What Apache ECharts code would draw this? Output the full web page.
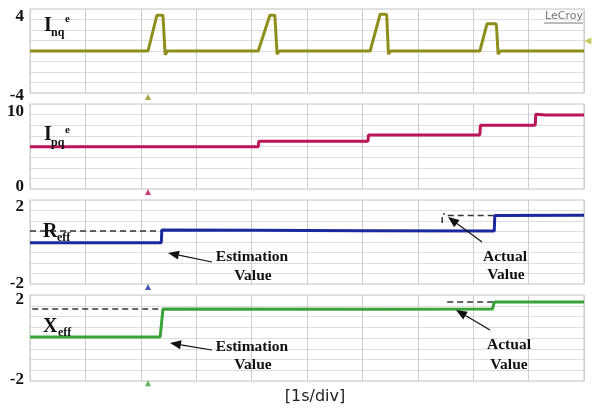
<!DOCTYPE html>
<html><head><meta charset="utf-8">
<script src="https://cdn.jsdelivr.net/npm/echarts@6/dist/echarts.min.js"></script>
<style>html,body{margin:0;padding:0;background:#fff}#c{width:600px;height:410px}</style>
</head><body><div id="c"></div>
<script>
// ---- data (time in s, 1 s/div) ----
const timeRange = [0, 10];
const inqRange = [-4, 4];
const ipqRange = [0, 10];
const reffRange = [-2, 2];
const xeffRange = [-2, 2];
const inqLabels = ['4', '-4'];
const ipqLabels = ['10', '0'];
const reffLabels = ['2', '-2'];
const xeffLabels = ['2', '-2'];

const inqData = [[0,0],[2.13,0],[2.29,3.4],[2.40,3.4],[2.41,3.3],[2.44,-0.35],[2.48,0],
  [4.12,0],[4.33,3.4],[4.42,3.4],[4.43,3.3],[4.46,-0.3],[4.50,0],
  [6.14,0],[6.32,3.5],[6.43,3.5],[6.44,3.3],[6.47,-0.3],[6.51,0],
  [8.12,0],[8.25,2.6],[8.41,2.6],[8.42,2.4],[8.45,-0.3],[8.49,0],[10,0]];
const ipqData = [[0,4.97],[4.12,4.97],[4.13,5.62],[6.10,5.62],[6.11,6.35],[8.12,6.35],[8.13,7.5],
  [9.12,7.5],[9.13,8.8],[9.3,8.7],[10,8.7]];
const reffData = [[0,-0.03],[2.37,-0.03],[2.38,0.57],[4,0.56],[6,0.54],[8.38,0.52],[8.39,1.26],[10,1.27]];
const xeffData = [[0,0.05],[2.35,0.05],[2.40,1.35],[6.40,1.34],[6.42,1.26],[6.46,1.34],[8.35,1.35],[8.38,1.67],[10,1.68]];
const reffActual1 = [[0,0.52],[2.38,0.52]];
const reffActual2 = [[7.44,0.9],[7.44,1.33],[7.49,1.33],[7.49,null],[7.54,1.26],[8.39,1.26]];
const xeffActual1 = [[0.04,1.35],[2.38,1.35]];
const xeffActual2 = [[7.53,1.67],[8.36,1.67]];
const triggerMarks = [[2.13,-4.38],[2.13,-0.35],[2.13,-2.14],[2.13,-2.1]];
const offsetMark = [[10.07,0.95]];

const colors = ['#8e8e1c','#bc1458','#1a2a9e','#38a438'];
const ranges = [inqRange, ipqRange, reffRange, xeffRange];
const labels = [inqLabels, ipqLabels, reffLabels, xeffLabels];
const intervals = [1, 1.25, 0.5, 0.5];
const tops = [9, 104, 200, 295];
const heights = [84, 85, 84, 86];
const topPad = [16, 16, 14, 10];
const botPad = [[6,0,0,0], [0,0,4,0], [0,0,0,0], [0,0,2,0]];

const chart = echarts.init(document.getElementById('c'), null, {renderer:'canvas'});
const grids = [], xAxes = [], yAxes = [], series = [];
for (let i = 0; i < 4; i++) {
  grids.push({left:30, right:16, top:tops[i], height:heights[i], show:true, borderColor:'#c4c4c4', borderWidth:1});
  xAxes.push({type:'value', gridIndex:i, min:timeRange[0], max:timeRange[1], interval:1,
    axisLine:{show:false}, axisTick:{show:false}, axisLabel:{show:false},
    splitLine:{show:true, lineStyle:{color:'#cdcdcd', width:1}}});
  const r = ranges[i], lb = labels[i];
  yAxes.push({type:'value', gridIndex:i, min:r[0], max:r[1], interval:intervals[i],
    axisLine:{show:false}, axisTick:{show:false},
    splitLine:{show:true, lineStyle:{color:'#dedede', width:1}},
    axisLabel:{show:true, showMinLabel:true, showMaxLabel:true, margin:6,
      formatter:function(v){ if (v===r[1]) return '{t|'+lb[0]+'}'; if (v===r[0]) return '{b|'+lb[1]+'}'; return ''; },
      rich:{ t:{fontFamily:'Liberation Serif', fontWeight:'bold', fontSize:17, color:'#111', padding:[topPad[i],0,0,0]},
             b:{fontFamily:'Liberation Serif', fontWeight:'bold', fontSize:17, color:'#111', padding:botPad[i]} }}});
}
const dataSets = [inqData, ipqData, reffData, xeffData];
for (let i = 0; i < 4; i++) {
  series.push({type:'line', xAxisIndex:i, yAxisIndex:i, data:dataSets[i], showSymbol:false, symbol:'none',
    lineStyle:{color:colors[i], width:3}, z:5});
  series.push({type:'scatter', xAxisIndex:i, yAxisIndex:i, data:[triggerMarks[i]], symbol:'triangle',
    symbolSize:[6,6], itemStyle:{color:colors[i]}, clip:false, z:6});
}
const dashed = {type:'line', showSymbol:false, symbol:'none', connectNulls:false, z:4,
  lineStyle:{color:'#333', width:1.5, type:[6,4]}};
series.push(Object.assign({}, dashed, {xAxisIndex:2, yAxisIndex:2, data:reffActual1}));
series.push(Object.assign({}, dashed, {xAxisIndex:2, yAxisIndex:2, data:reffActual2}));
series.push(Object.assign({}, dashed, {xAxisIndex:3, yAxisIndex:3, data:xeffActual1}));
series.push(Object.assign({}, dashed, {xAxisIndex:3, yAxisIndex:3, data:xeffActual2}));
series.push({type:'scatter', xAxisIndex:0, yAxisIndex:0, data:offsetMark, symbol:'triangle', symbolRotate:90,
  symbolSize:[7,7], itemStyle:{color:'#b8b830'}, clip:false, z:6});

function arrow(tx, ty, hx, hy) {
  const dx = hx - tx, dy = hy - ty, L = Math.sqrt(dx*dx+dy*dy), ux = dx/L, uy = dy/L;
  const hl = 11, hw = 4.5;
  const bx = hx - ux*hl, by = hy - uy*hl;
  return [
    {type:'line', shape:{x1:tx, y1:ty, x2:bx, y2:by}, style:{stroke:'#111', lineWidth:1.2}, z:20},
    {type:'polygon', shape:{points:[[hx,hy],[bx - uy*hw, by + ux*hw],[bx + uy*hw, by - ux*hw]]}, style:{fill:'#111'}, z:20}
  ];
}
const serif = 'Liberation Serif';
function txt(s, x, y, size, align, extra) {
  return Object.assign({type:'text', z:21, style:{text:s, x:x, y:y, fill:'#111',
    font:'bold '+size+'px "'+serif+'"', textAlign:align||'left', textVerticalAlign:'middle'}}, extra||{});
}
const graphic = [].concat(
  [txt('I',44,26,20), txt('nq',51,33,12), txt('e',65,19,11)],
  [txt('I',44,135,20), txt('pq',51,143,12), txt('e',65,130,11)],
  [txt('R',43,232,20), txt('eff',57,238,12)],
  [txt('X',43,327,20), txt('eff',58,333,12)],
  [txt('Estimation',252,257,15.5,'center'), txt('Value',253,276,15.5,'center')],
  [txt('Actual',505,257,15.5,'center'), txt('Value',506,275,15.5,'center')],
  [txt('Estimation',252,347,15.5,'center'), txt('Value',253,365,15.5,'center')],
  [txt('Actual',509,345,15.5,'center'), txt('Value',509,365,15.5,'center')],
  arrow(212,262,168,253), arrow(482,242,448,217), arrow(212,350,170,343), arrow(490,330,456,310),
  [{type:'text', z:21, style:{text:'[1s/div]', x:315, y:397, fill:'#222', font:'16px "DejaVu Sans"', textAlign:'center', textVerticalAlign:'middle'}}],
  [{type:'text', z:21, style:{text:'LeCroy', x:583, y:16, fill:'#777', font:'11px "DejaVu Sans"', textAlign:'right', textVerticalAlign:'middle'}},
   {type:'line', z:21, shape:{x1:544, y1:23, x2:583, y2:23}, style:{stroke:'#777', lineWidth:1}}]
);
chart.setOption({animation:false, backgroundColor:'#fff', grid:grids, xAxis:xAxes, yAxis:yAxes, series:series, graphic:graphic});
</script></body></html>
